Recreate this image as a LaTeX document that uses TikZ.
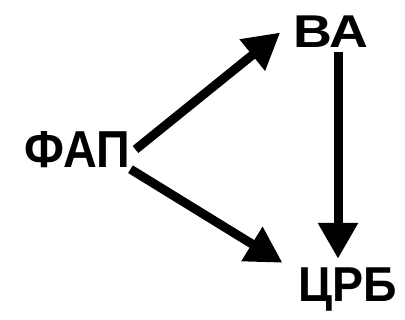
\documentclass[tikz,border=0pt]{standalone}
\usepackage{fontspec}
\setmainfont{Liberation Sans}
\usetikzlibrary{arrows.meta}

\begin{document}
\begin{tikzpicture}[x=1pt, y=-1pt,
		word/.style={inner sep=0pt, anchor=base, text depth=0pt, transform shape},
		arr/.style={line width=9pt, -{Triangle[length=36pt, width=38pt]}}]
			%%%%% START %%%%%
			
			\useasboundingbox (0, 0) rectangle (405, 320);
			
			\node[word, font=\bfseries\fontsize{52}{52}\selectfont, xscale=0.9, text height=31pt] (fap) at (77.5, 168) {ФАП};
			\node[word, font=\bfseries\fontsize{46}{46}\selectfont, xscale=1.17, text height=25pt] (va) at (331, 48) {ВА};
			\node[word, font=\bfseries\fontsize{49}{49}\selectfont, xscale=0.95, text height=29pt] (crb) at (348, 302) {ЦРБ};
			
			\draw[arr] ([shift={(5,-3)}]fap.east) -- ([shift={(-13,-3)}]va.west);
			\draw[arr] ([shift={(0,1)}]fap.south east) -- ([shift={(-16,-10)}]crb.north west);
			\draw[arr] ([shift={(7,4)}]va.south) -- ([shift={(7,-14)}]va.south |- crb.north);
			
			%%%%% END %%%%%
		\end{tikzpicture}
\end{document}
